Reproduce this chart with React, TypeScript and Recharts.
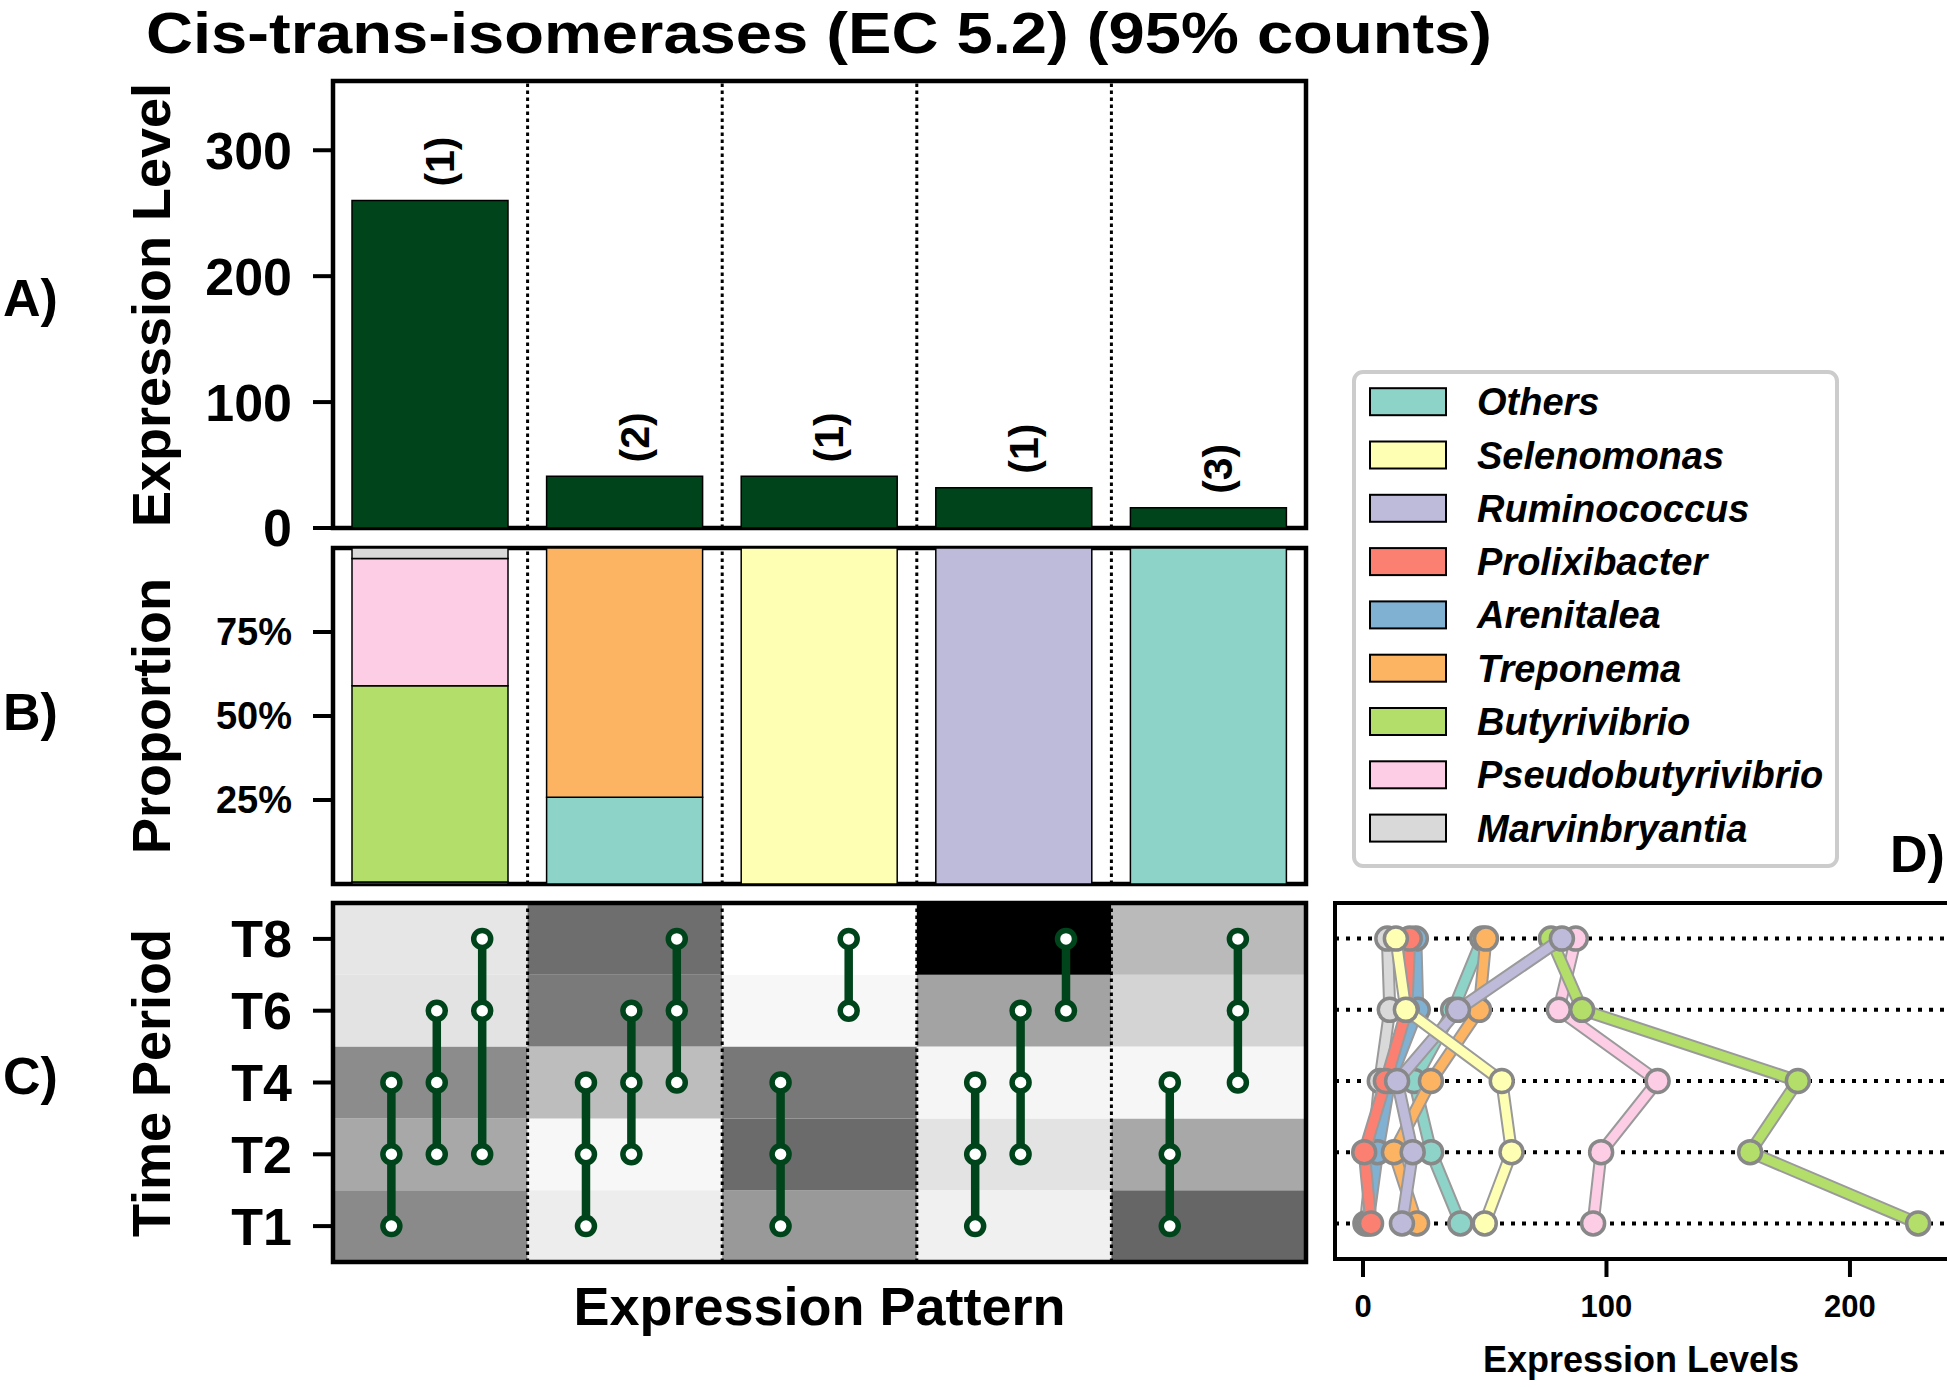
import React from "react";
import {
  Bar,
  BarChart,
  LabelList,
  ReferenceArea,
  ReferenceLine,
  Scatter,
  ScatterChart,
  XAxis,
  YAxis,
} from "recharts";

const W = 1947;
const H = 1387;
const FONT = "'Liberation Sans', Arial, Helvetica, sans-serif";
const GREEN = "#00441b";

// ---- data ----
const patternIds = [0, 1, 2, 3, 4];
const expressionLevel = [260, 41, 41, 32, 16];
const patternCounts = ["(1)", "(2)", "(1)", "(1)", "(3)"];

const taxa = [
  "Others",
  "Selenomonas",
  "Ruminococcus",
  "Prolixibacter",
  "Arenitalea",
  "Treponema",
  "Butyrivibrio",
  "Pseudobutyrivibrio",
  "Marvinbryantia",
];
const taxaColors = ["#8dd3c7", "#ffffb3", "#bebada", "#fb8072", "#80b1d3", "#fdb462", "#b3de69", "#fccde5", "#d9d9d9"];

// proportion (%) of each taxon per pattern
const propOthers = [0.6, 25.8, 0, 0, 100];
const propSelenomonas = [0, 0, 100, 0, 0];
const propRuminococcus = [0, 0, 0, 100, 0];
const propProlixibacter = [0, 0, 0, 0, 0];
const propArenitalea = [0, 0, 0, 0, 0];
const propTreponema = [0, 74.2, 0, 0, 0];
const propButyrivibrio = [58.4, 0, 0, 0, 0];
const propPseudobutyrivibrio = [37.9, 0, 0, 0, 0];
const propMarvinbryantia = [3.1, 0, 0, 0, 0];
const proportions = [
  propOthers,
  propSelenomonas,
  propRuminococcus,
  propProlixibacter,
  propArenitalea,
  propTreponema,
  propButyrivibrio,
  propPseudobutyrivibrio,
  propMarvinbryantia,
];

const timeLabels = ["T1", "T2", "T4", "T6", "T8"];

// heatmap intensity (0 white .. 1 black), rows T1..T8
const heatP1 = [0.46, 0.34, 0.45, 0.11, 0.1];
const heatP2 = [0.07, 0.03, 0.26, 0.52, 0.57];
const heatP3 = [0.4, 0.58, 0.53, 0.03, 0];
const heatP4 = [0.06, 0.11, 0.04, 0.36, 1];
const heatP5 = [0.6, 0.34, 0.035, 0.17, 0.27];
const heatmap = [heatP1, heatP2, heatP3, heatP4, heatP5];

// time points (indices into timeLabels) joined in each pattern
const membersP1 = [[0, 1, 2], [1, 2, 3], [1, 3, 4]];
const membersP2 = [[0, 1, 2], [1, 2, 3], [2, 3, 4]];
const membersP3 = [[0, 1, 2], [3, 4]];
const membersP4 = [[0, 1, 2], [1, 2, 3], [3, 4]];
const membersP5 = [[0, 1, 2], [2, 3, 4]];
const members = [membersP1, membersP2, membersP3, membersP4, membersP5];

// expression levels per taxon at T1, T2, T4, T6, T8
const levelOthers = [40, 28, 21, 37, 49];
const levelSelenomonas = [50, 61, 57, 17.6, 13.5];
const levelRuminococcus = [16, 20.4, 14, 39, 81.7];
const levelProlixibacter = [3.3, 0.5, 9.4, 18, 19.2];
const levelArenitalea = [2, 6, 11, 22.5, 21.7];
const levelTreponema = [22.2, 12.7, 27.9, 47.7, 50.5];
const levelButyrivibrio = [228, 159, 178.6, 90, 77.2];
const levelPseudobutyrivibrio = [94.5, 97.8, 121, 80.4, 87.4];
const levelMarvinbryantia = [1, 4, 6.9, 11, 10];
const levels = [
  levelOthers,
  levelSelenomonas,
  levelRuminococcus,
  levelProlixibacter,
  levelArenitalea,
  levelTreponema,
  levelButyrivibrio,
  levelPseudobutyrivibrio,
  levelMarvinbryantia,
];
// drawing order for panel D (last on top)
const drawOrder = [8, 7, 6, 4, 3, 0, 5, 2, 1];

// ---- derived ----
const levelData = patternIds.map((x, i) => ({ x, level: expressionLevel[i], count: patternCounts[i] }));
const propData = patternIds.map((x, i) => {
  const row: Record<string, number> = { x };
  taxa.forEach((t, k) => (row[t] = proportions[k][i]));
  return row;
});
const separators = [0.5, 1.5, 2.5, 3.5];
const grey = (v: number) => {
  const g = Math.round(255 * (1 - v));
  return `rgb(${g},${g},${g})`;
};

const tickText = (size: number) => ({ fontSize: size, fontWeight: 700, fill: "#000", fontFamily: FONT });
const tickLine = { stroke: "#000", strokeWidth: 4 };

const layer: React.CSSProperties = { position: "absolute", left: 0, top: 0 };

const renderCount = (props: any) => {
  const { x, y, width, value } = props;
  const cx = Number(x) + Number(width) / 2 + 10;
  const cy = Number(y) - 14;
  return (
    <text
      x={cx}
      y={cy}
      transform={`rotate(-90 ${cx} ${cy})`}
      textAnchor="start"
      dominantBaseline="central"
      fontSize={41}
      fontWeight={700}
      fontFamily={FONT}
      fill="#000"
    >
      {value}
    </text>
  );
};

const ringDot = (props: any) => (
  <circle cx={props.cx} cy={props.cy} r={8.5} fill="#fff" stroke={GREEN} strokeWidth={5.5} />
);

const noDot = () => <g />;

export default function App() {
  return (
    <div style={{ position: "relative", width: W, height: H, overflow: "hidden", background: "#fff" }}>
      <style>{"body{margin:0}"}</style>

      {/* A) expression level */}
      <div style={layer}>
        <BarChart width={W} height={H} data={levelData} margin={{ top: 81, right: 641, bottom: 859, left: 233 }} barSize={156}>
          <XAxis type="number" dataKey="x" domain={[-0.5, 4.5]} hide />
          <YAxis
            type="number"
            domain={[0, 355]}
            ticks={[0, 100, 200, 300]}
            width={100}
            axisLine={false}
            tickLine={tickLine}
            tickSize={20}
            tickMargin={21}
            tick={tickText(52)}
            allowDataOverflow
          />
          {separators.map((s) => (
            <ReferenceLine key={s} x={s} stroke="#000" strokeWidth={3} strokeDasharray="3.5 3.5" />
          ))}
          <Bar dataKey="level" fill={GREEN} stroke="#000" strokeWidth={1.5} isAnimationActive={false}>
            <LabelList dataKey="count" content={renderCount} />
          </Bar>
          <ReferenceArea x1={-0.5} x2={4.5} y1={0} y2={355} fill="none" stroke="#000" strokeWidth={4.5} ifOverflow="visible" />
        </BarChart>
      </div>

      {/* B) proportion */}
      <div style={layer}>
        <BarChart width={W} height={H} data={propData} margin={{ top: 548, right: 641, bottom: 503, left: 233 }} barSize={156}>
          <XAxis type="number" dataKey="x" domain={[-0.5, 4.5]} hide />
          <YAxis
            type="number"
            domain={[0, 100]}
            ticks={[25, 50, 75]}
            tickFormatter={(v) => `${v}%`}
            width={100}
            axisLine={false}
            tickLine={tickLine}
            tickSize={20}
            tickMargin={21}
            tick={tickText(38)}
            allowDataOverflow
          />
          {separators.map((s) => (
            <ReferenceLine key={s} x={s} stroke="#000" strokeWidth={3} strokeDasharray="3.5 3.5" />
          ))}
          {taxa.map((t, k) => (
            <Bar key={t} dataKey={t} stackId="p" fill={taxaColors[k]} stroke="#000" strokeWidth={1.5} isAnimationActive={false} />
          ))}
          <ReferenceArea x1={-0.5} x2={4.5} y1={0} y2={100} fill="none" stroke="#000" strokeWidth={4.5} ifOverflow="visible" />
        </BarChart>
      </div>

      {/* C) time period pattern */}
      <div style={layer}>
        <ScatterChart width={W} height={H} margin={{ top: 903, right: 641, bottom: 125, left: 233 }}>
          <XAxis type="number" dataKey="x" domain={[-0.5, 4.5]} hide />
          <YAxis
            type="number"
            dataKey="y"
            domain={[-0.5, 4.5]}
            ticks={[0, 1, 2, 3, 4]}
            tickFormatter={(v) => timeLabels[v]}
            width={100}
            axisLine={false}
            tickLine={tickLine}
            tickSize={20}
            tickMargin={21}
            tick={tickText(52)}
            allowDataOverflow
          />
          {heatmap.map((col, i) =>
            col.map((v, r) => (
              <ReferenceArea
                key={`h${i}-${r}`}
                x1={i - 0.5}
                x2={i + 0.5}
                y1={r - 0.5}
                y2={r + 0.5}
                fill={grey(v)}
                fillOpacity={1}
                stroke="none"
              />
            ))
          )}
          {separators.map((s) => (
            <ReferenceLine key={s} x={s} stroke="#000" strokeWidth={3} strokeDasharray="3.5 3.5" />
          ))}
          {members.map((sets, i) =>
            sets.map((pts, k) => {
              const x = i - 0.2 + (k * 0.7) / sets.length;
              return (
                <Scatter
                  key={`m${i}-${k}`}
                  data={pts.map((y) => ({ x, y }))}
                  line={{ stroke: GREEN, strokeWidth: 8.5 }}
                  shape={ringDot}
                  isAnimationActive={false}
                />
              );
            })
          )}
          <ReferenceArea x1={-0.5} x2={4.5} y1={-0.5} y2={4.5} fill="none" stroke="#000" strokeWidth={4.5} ifOverflow="visible" />
        </ScatterChart>
      </div>

      {/* D) expression levels per taxon */}
      <div style={layer}>
        <ScatterChart width={1960} height={H} margin={{ top: 903, right: 9, bottom: 68, left: 1335 }}>
          <XAxis
            type="number"
            dataKey="x"
            domain={[-11.5, 241.5]}
            ticks={[0, 100, 200]}
            height={60}
            axisLine={false}
            tickLine={tickLine}
            tickSize={18}
            tickMargin={18}
            tick={tickText(31)}
            allowDataOverflow
          />
          <YAxis type="number" dataKey="y" domain={[-0.5, 4.5]} hide />
          {[0, 1, 2, 3, 4].map((r) => (
            <ReferenceLine key={r} y={r} stroke="#000" strokeWidth={4} strokeDasharray="4 7" />
          ))}
          {drawOrder.map((k) => {
            const pts = levels[k].map((x, y) => ({ x, y }));
            return [
              <Scatter
                key={`s${k}`}
                data={pts}
                line={{ stroke: "#9a9a9a", strokeWidth: 13 }}
                shape={noDot}
                isAnimationActive={false}
              />,
              <Scatter
                key={`l${k}`}
                data={pts}
                line={{ stroke: taxaColors[k], strokeWidth: 9 }}
                shape={(p: any) => (
                  <circle cx={p.cx} cy={p.cy} r={11.5} fill={taxaColors[k]} stroke="#888" strokeWidth={3.5} />
                )}
                isAnimationActive={false}
              />,
            ];
          })}
          <ReferenceArea x1={-11.5} x2={241.5} y1={-0.5} y2={4.5} fill="none" stroke="#000" strokeWidth={4} ifOverflow="visible" />
        </ScatterChart>
      </div>

      {/* titles, labels and legend */}
      <svg width={W} height={H} style={{ ...layer, pointerEvents: "none" }} fontFamily={FONT} fontWeight={700}>
        <text x={146} y={53} fontSize={58} textLength={1346} lengthAdjust="spacingAndGlyphs">
          Cis-trans-isomerases (EC 5.2) (95% counts)
        </text>
        <text x={3} y={316} fontSize={52}>A)</text>
        <text x={3} y={730} fontSize={52}>B)</text>
        <text x={3} y={1094} fontSize={52}>C)</text>
        <text x={1890} y={872} fontSize={52}>D)</text>

        <text x={170} y={305} fontSize={54} textAnchor="middle" transform="rotate(-90 170 305)">
          Expression Level
        </text>
        <text x={170} y={716} fontSize={54} textAnchor="middle" transform="rotate(-90 170 716)">
          Proportion
        </text>
        <text x={170} y={1083} fontSize={54} textAnchor="middle" transform="rotate(-90 170 1083)">
          Time Period
        </text>
        <text x={819.5} y={1325} fontSize={54} textAnchor="middle">
          Expression Pattern
        </text>
        <text x={1641} y={1372} fontSize={36} textAnchor="middle">
          Expression Levels
        </text>

        <rect x={1354} y={372} width={483} height={494} rx={9} fill="#fff" stroke="#cccccc" strokeWidth={4} />
        {taxa.map((t, i) => {
          const cy = 401.7 + i * 53.3;
          return (
            <g key={t}>
              <rect x={1370} y={cy - 13.5} width={76} height={27} fill={taxaColors[i]} stroke="#000" strokeWidth={2} />
              <text x={1477} y={cy + 13.5} fontSize={38} fontStyle="italic">
                {t}
              </text>
            </g>
          );
        })}
      </svg>
    </div>
  );
}
